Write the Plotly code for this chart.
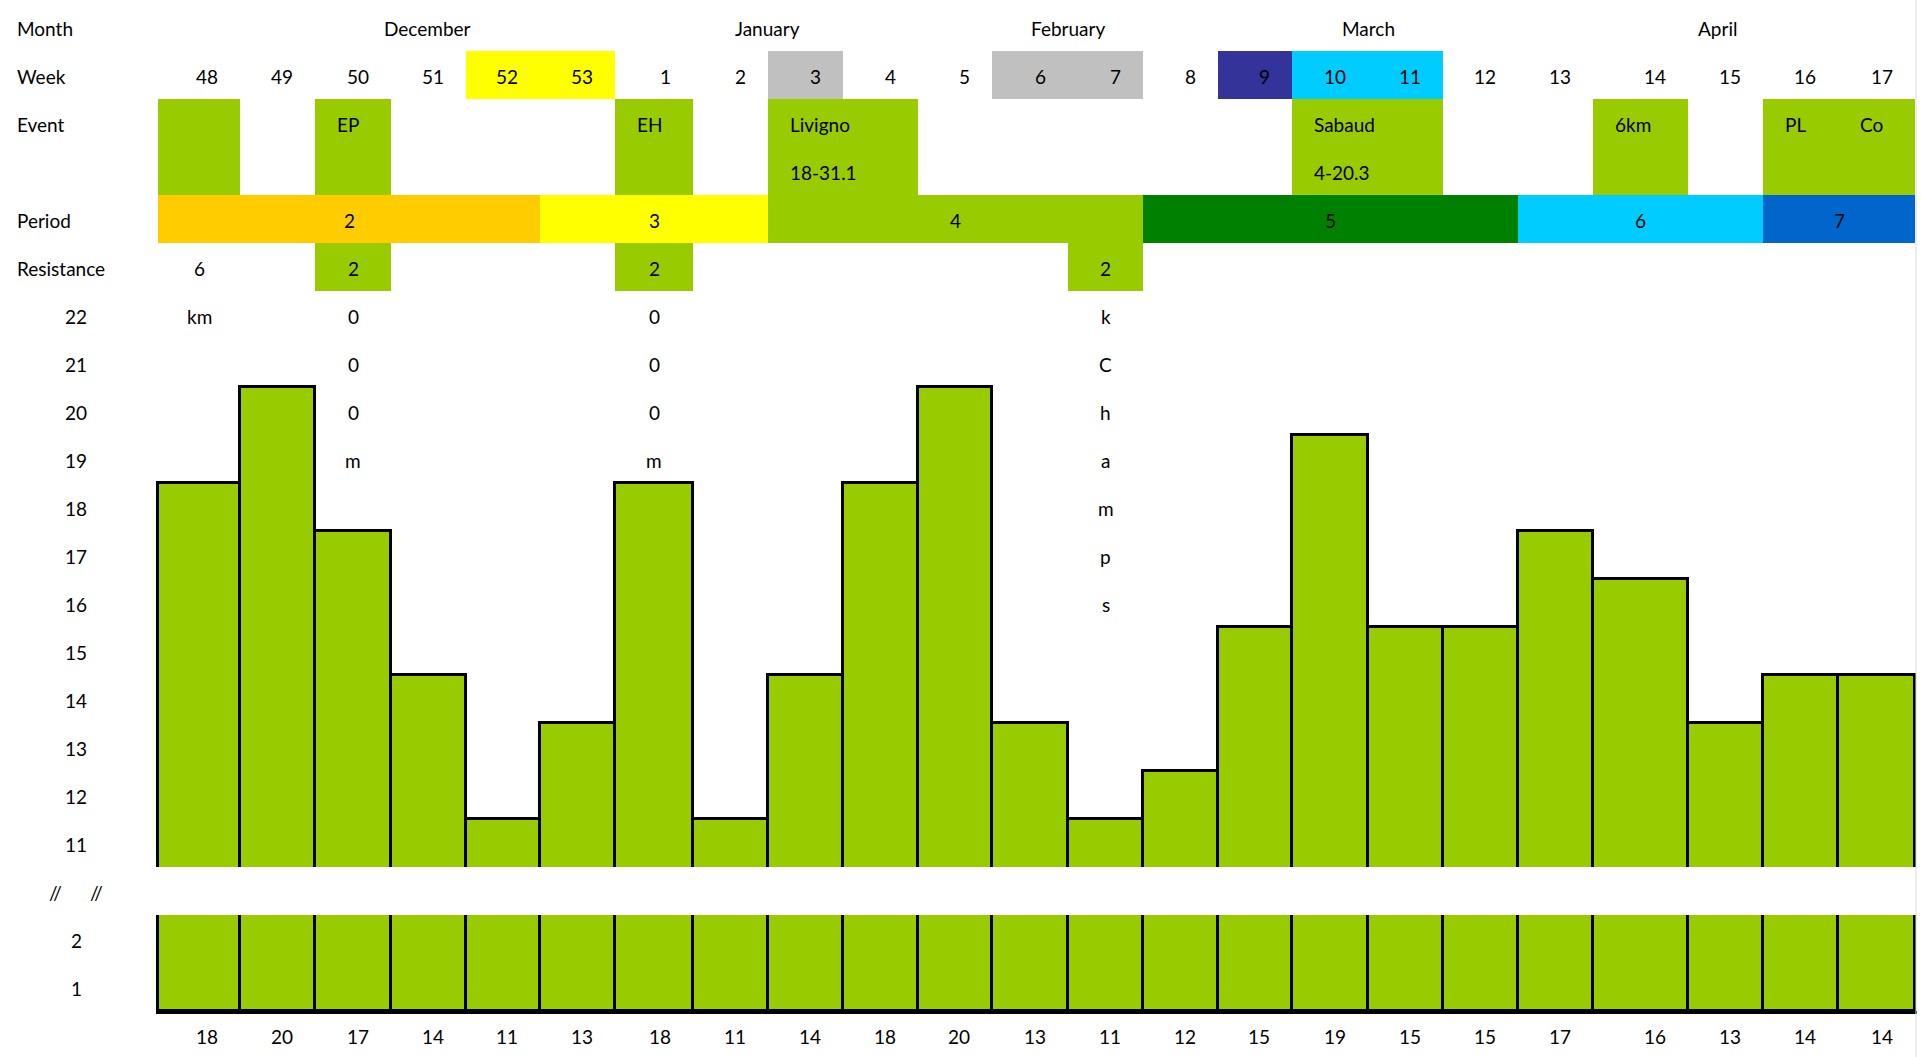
import plotly.graph_objects as go

# ---------------- data ----------------
weeks = ["48", "49", "50", "51", "52", "53", "1", "2", "3", "4", "5", "6", "7",
         "8", "9", "10", "11", "12", "13", "14", "15", "16", "17"]
distance = [18, 20, 17, 14, 11, 13, 18, 11, 14, 18, 20, 13, 11, 12, 15, 19, 15, 15,
            17, 16, 13, 14, 14]
months = ["December", "January", "February", "March", "April"]

period_labels = ["2", "3", "4", "5", "6", "7"]
period_first_week = ["48", "53", "3", "8", "13", "16"]
period_last_week = ["52", "2", "7", "12", "15", "17"]

highlight_weeks = ["52", "53", "3", "6", "7", "9", "10", "11"]

event_first_week = ["48", "50", "1", "3", "10", "14", "16", "17"]
event_last_week = ["48", "50", "1", "4", "11", "14", "16", "17"]
event_line1 = ["", "EP", "EH", "Livigno", "Sabaud", "6km", "PL", "Co"]
event_line2 = ["", "", "", "18-31.1", "4-20.3", "", "", ""]

resistance_weeks = ["48", "50", "1", "7"]
resistance_text = [["6", "km"],
                   ["2", "0", "0", "0", "m"],
                   ["2", "0", "0", "0", "m"],
                   ["2", "k", "C", "h", "a", "m", "p", "s"]]
resistance_filled = [False, True, True, True]

header_labels = ["Month", "Week", "Event", "", "Period", "Resistance"]
scale_labels = ["22", "21", "20", "19", "18", "17", "16", "15", "14", "13", "12", "11",
                "", "2", "1"]
break_marks = ["//", "//"]

# ---------------- layout / style ----------------
W, H = 1921, 1057
COL_EDGES = [158, 240, 315, 391, 466, 540, 615, 693, 768, 843, 918, 992, 1068, 1143,
             1218, 1292, 1368, 1443, 1518, 1593, 1688, 1763, 1838, 1915]
MONTH_X = [427, 767, 1068, 1368, 1717]
BREAK_X = [55, 96]
ROW_H, ROW_OFF = 48, 3
PAD = 20
GREEN = "#99CC00"
PERIOD_COLORS = ["#FFCC00", "#FFFF00", "#99CC00", "#008000", "#00CCFF", "#0066CC"]
HIGHLIGHT_COLORS = ["#FFFF00", "#FFFF00", "#C0C0C0", "#C0C0C0", "#C0C0C0",
                    "#333399", "#00CCFF", "#00CCFF"]
FONT = dict(family="Lato, Liberation Sans, sans-serif", size=19, color="black")

idx = {w: i for i, w in enumerate(weeks)}
centers = [(COL_EDGES[i] + COL_EDGES[i + 1]) / 2 for i in range(len(weeks))]
widths = [COL_EDGES[i + 1] - COL_EDGES[i] for i in range(len(weeks))]

ROW_MONTH, ROW_WEEK, ROW_EVENT, ROW_PERIOD, ROW_RES, ROW_SCALE, ROW_BOTTOM = 0, 1, 2, 4, 5, 6, 21
ROW_BREAK = 18

fig = go.Figure()

bar_style = dict(marker=dict(color=GREEN, line=dict(color="black", width=3)),
                 hoverinfo="skip", showlegend=False)
fig.add_trace(go.Bar(x=centers, y=distance, width=widths, xaxis="x", yaxis="y", **bar_style))
fig.add_trace(go.Bar(x=centers, y=distance, width=widths, xaxis="x", yaxis="y2", **bar_style))
fig.add_trace(go.Scatter(x=[], y=[], xaxis="x", yaxis="y3", showlegend=False, hoverinfo="skip"))

shapes = []
ann = []


def cell(c0, c1, r0, r1, color):
    shapes.append(dict(type="rect", xref="x", yref="y3",
                       x0=COL_EDGES[c0], x1=COL_EDGES[c1 + 1], y0=r0, y1=r1,
                       fillcolor=color, line=dict(width=0), layer="below"))


def text(x, r, s, anchor="center", xref="x"):
    ann.append(dict(x=x, y=r + 0.5, xref=xref, yref="y3", text=s, showarrow=False,
                    xanchor=anchor, yanchor="middle", yshift=-1.5, font=FONT))


# week highlights
for w, col in zip(highlight_weeks, HIGHLIGHT_COLORS):
    cell(idx[w], idx[w], ROW_WEEK, ROW_WEEK + 1, col)
# events
for a, b, l1, l2 in zip(event_first_week, event_last_week, event_line1, event_line2):
    cell(idx[a], idx[b], ROW_EVENT, ROW_EVENT + 2, GREEN)
    if l1:
        text(COL_EDGES[idx[a]] + PAD, ROW_EVENT, l1, "left")
    if l2:
        text(COL_EDGES[idx[a]] + PAD, ROW_EVENT + 1, l2, "left")
# periods
for lab, a, b, col in zip(period_labels, period_first_week, period_last_week, PERIOD_COLORS):
    cell(idx[a], idx[b], ROW_PERIOD, ROW_PERIOD + 1, col)
    text((COL_EDGES[idx[a]] + COL_EDGES[idx[b] + 1]) / 2, ROW_PERIOD, lab)
# resistance
for w, chars, filled in zip(resistance_weeks, resistance_text, resistance_filled):
    i = idx[w]
    if filled:
        cell(i, i, ROW_RES, ROW_RES + 1, GREEN)
    for k, ch in enumerate(chars):
        text(centers[i], ROW_RES + k, ch)
# months
for m, x in zip(months, MONTH_X):
    text(x, ROW_MONTH, m)
# week labels and bottom value labels (right aligned)
for i, w in enumerate(weeks):
    text(COL_EDGES[i + 1] - PAD, ROW_WEEK, w, "right")
    text(COL_EDGES[i + 1] - PAD, ROW_BOTTOM, str(distance[i]), "right")
# left labels
for r, s in enumerate(header_labels):
    if s:
        text(15 / W, r, s, "left", xref="paper")
for k, s in enumerate(scale_labels):
    if s:
        text(76 / W, ROW_SCALE + k, s, "center", xref="paper")
for s, x in zip(break_marks, BREAK_X):
    text(x / W, ROW_BREAK, s, "center", xref="paper")

shapes.append(dict(type="line", xref="paper", yref="paper", x0=1916 / W, x1=1916 / W,
                   y0=0, y1=1, line=dict(color="#DADADA", width=1)))

x0, x1 = 156, 1917
rows_total = (H - ROW_OFF) / ROW_H
fig.update_layout(
    width=W, height=H, autosize=False,
    margin=dict(l=0, r=0, t=0, b=0, pad=0),
    paper_bgcolor="white", plot_bgcolor="rgba(0,0,0,0)",
    bargap=0, barmode="overlay",
    xaxis=dict(domain=[x0 / W, x1 / W], range=[x0, x1], anchor="y2",
               showline=True, linecolor="black", linewidth=3, showgrid=False,
               zeroline=False, showticklabels=False, ticks="", fixedrange=True),
    yaxis=dict(domain=[1 - 867 / H, 1 - 291 / H], range=[10, 22], anchor="x",
               showgrid=False, zeroline=False, showticklabels=False, showline=False,
               ticks="", fixedrange=True),
    yaxis2=dict(domain=[1 - 1011 / H, 1 - 915 / H], range=[0, 2], anchor="x",
                showgrid=False, zeroline=False, showticklabels=False, showline=False,
                ticks="", fixedrange=True),
    yaxis3=dict(domain=[0, 1], range=[rows_total, -ROW_OFF / ROW_H], anchor="x",
                showgrid=False, zeroline=False, showticklabels=False, showline=False,
                ticks="", fixedrange=True),
    shapes=shapes, annotations=ann,
)

fig.write_html("out.html")
